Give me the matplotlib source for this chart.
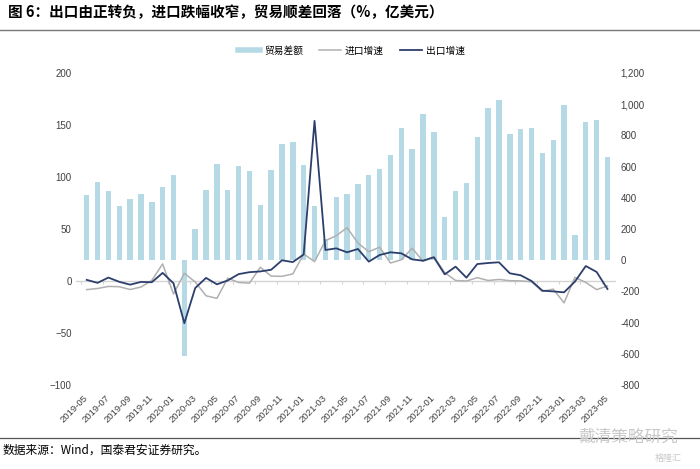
import numpy as np
import pandas as pd
import matplotlib
matplotlib.use("Agg")
import matplotlib.pyplot as plt
from matplotlib.lines import Line2D
from matplotlib.ticker import FuncFormatter

plt.rcParams['font.family'] = ['Liberation Sans', 'Noto Sans CJK SC', 'DejaVu Sans']
plt.rcParams['axes.unicode_minus'] = True

# ---------------- data ----------------
months = [p.strftime('%Y-%m') for p in pd.period_range('2019-05', '2023-05', freq='M')]

trade_balance = [415, 503, 443, 346, 393, 425, 373, 471, 546, -617,
                 200, 448, 617, 448, 602, 572, 356, 576, 745, 758,
                 612, 349, 138, 405, 426, 490, 548, 584, 676, 847,
                 715, 935, 819, 274, 441, 492, 787, 975, 1029, 811,
                 843, 849, 689, 772, 997, 163, 883, 900, 659]

import_growth = [-8.3, -7.2, -5.2, -5.5, -8.2, -5.8, 0.6, 16.4, -12.5, 7.4,
                 -0.9, -14.2, -16.7, 2.7, -1.4, -2.1, 13.2, 4.7, 4.5, 6.8,
                 26.0, 18.6, 38.8, 43.5, 51.3, 36.5, 28.2, 32.5, 17.3, 20.4,
                 31.5, 19.0, 23.4, 8.0, 0.5, 0.0, 3.2, 0.5, 1.5, 0.3,
                 0.1, -0.7, -10.0, -7.8, -21.0, 3.5, -1.4, -8.3, -4.8]

export_growth = [1.1, -1.8, 3.3, -0.8, -3.5, -0.9, -1.2, 7.8, -2.2, -40.6,
                 -6.8, 3.0, -3.2, 0.5, 6.6, 8.5, 9.2, 10.8, 19.9, 18.2,
                 25.5, 154.0, 29.8, 31.4, 27.6, 30.8, 18.6, 25.0, 27.6, 26.6,
                 20.8, 19.5, 22.8, 6.4, 13.8, 3.2, 16.3, 17.3, 18.0, 7.4,
                 5.5, 0.0, -9.3, -10.0, -10.9, -0.6, 14.4, 8.7, -7.7]

legend_labels = ['贸易差额', '进口增速', '出口增速']
title_text = '图 6：出口由正转负，进口跌幅收窄，贸易顺差回落（%，亿美元）'
source_text = '数据来源：Wind，国泰君安证券研究。'

# ---------------- style ----------------
bar_color = '#b6dae5'
imp_color = '#b0b0b0'
exp_color = '#2c3f6c'
tick_color = '#404040'

W, H = 700, 469
fig = plt.figure(figsize=(W / 100, H / 100), dpi=100)

L = 75.85 / W
B = 1 - 385 / H
AW = 540.3 / W
AH = 312 / H

x = np.arange(len(months))

# bars on base axes (right-hand scale)
ax = fig.add_axes([L, B, AW, AH])
ax.bar(x, trade_balance, width=0.5, color=bar_color, zorder=2)
ax.set_ylim(-800, 1200)
ax.set_yticks(np.arange(-800, 1201, 200))
ax.set_xlim(-1, 48.8)
ax.set_xticks(x[::2])
ax.set_xticklabels(months[::2], rotation=45, ha='right', va='center',
                   rotation_mode='anchor', fontsize=6.8, color=tick_color)
ax.tick_params(axis='x', length=0, pad=8)
for s in ax.spines.values():
    s.set_visible(False)

# lines on twin axes (left-hand scale)
ax2 = ax.twinx()
ax.yaxis.tick_right()
ax.yaxis.set_major_formatter(FuncFormatter(lambda v, p: f'{int(v):,}'))
ax.tick_params(axis='y', length=0, pad=3, labelsize=7, labelcolor=tick_color)

ax2.set_ylim(-100, 200)
ax2.set_yticks(np.arange(-100, 201, 50))
ax2.yaxis.tick_left()
ax2.tick_params(axis='y', length=0, pad=3, labelsize=7, labelcolor=tick_color)
ax2.axhline(0, color='#d4d4d4', lw=1.0, zorder=1)
ax2.plot(x, import_growth, color=imp_color, lw=1.1, zorder=3)
ax2.plot(x, export_growth, color=exp_color, lw=1.3, zorder=4)
for s in ax2.spines.values():
    s.set_visible(False)
ax2.set_xlim(-1, 48.8)

# small ticks on zero line
sec = ax2.secondary_xaxis(1 / 3)
sec.set_xticks(np.arange(-0.5, 49, 2))
sec.tick_params(axis='x', length=2.5, width=0.8, color='#d4d4d4', labelbottom=False, labeltop=False)
for s in sec.spines.values():
    s.set_visible(False)

# legend
handles = [Line2D([], [], color=bar_color, lw=4),
           Line2D([], [], color=imp_color, lw=1.1),
           Line2D([], [], color=exp_color, lw=1.3)]
fig.legend(handles, legend_labels, loc='center', bbox_to_anchor=(0.502, 1 - 50.7 / H),
           ncol=3, frameon=False, handlelength=2.3, handletextpad=0.4,
           columnspacing=1.6, prop={'family': ['Noto Sans CJK SC'], 'size': 7})

# title and decorations
fig.text(8 / W, 1 - 12.5 / H, title_text, ha='left', va='center', fontsize=10.5,
         fontweight='bold', family=['Noto Sans CJK SC', 'DejaVu Sans'])
fig.add_artist(Line2D([0, 1], [1 - 30 / H, 1 - 30 / H], color='#777777', lw=1.0,
                      transform=fig.transFigure))
fig.add_artist(Line2D([0, 1], [1 - 438 / H, 1 - 438 / H], color='#555555', lw=0.9,
                      transform=fig.transFigure))
fig.text(3 / W, 1 - 450 / H, source_text, ha='left', va='center', fontsize=8.5,
         family=['Noto Sans CJK SC', 'DejaVu Sans'])
fig.text(628 / W, 1 - 437 / H, '戴清策略研究', ha='center', va='center', fontsize=12,
         color='#c9c9c9', family=['Noto Sans CJK SC'])
fig.text(668 / W, 1 - 458 / H, '格隆汇', ha='center', va='center', fontsize=6.5,
         color='#c9c9c9', family=['Noto Sans CJK SC'])

fig.savefig('out.png', dpi=100)
